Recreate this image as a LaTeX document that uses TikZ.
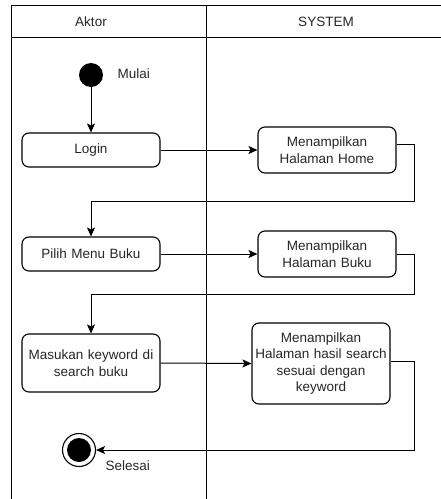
\documentclass[tikz,border=0pt]{standalone}
\usepackage{fontspec}
\setmainfont{Liberation Sans}
\usetikzlibrary{arrows.meta}
\begin{document}
\begin{tikzpicture}[x=1pt,y=-1pt,
  every node/.style={font=\fontsize{13.5}{16.6}\selectfont, text=black!85},
  act/.style={draw=black, line width=1.1pt, rounded corners=7pt, minimum width=138pt,
              text width=134pt, align=center, inner sep=0pt},
  flow/.style={draw=black, line width=1pt, -{Stealth[length=9pt,width=8pt,inset=2pt]}},
  lane/.style={draw=black, line width=1pt}]
\useasboundingbox (0,0) rectangle (440,499);

% swimlane frame
\draw[lane] (11,499) -- (11,5) -- (441,5);
\draw[lane] (11,37) -- (441,37);
\draw[lane] (206,5) -- (206,499);
\node (hAktor) at (91,22) {Aktor};
\node (hSystem) at (326,22) {SYSTEM};

% start / end markers
\node[circle, fill=black, minimum size=24pt, inner sep=0pt] (start) at (91,75) {};
\node[anchor=west] (mulai) at (114,74) {Mulai};
\node[circle, draw=black, line width=1.1pt, fill=white, minimum size=33pt, inner sep=0pt] (finish) at (79,450) {};
\node[circle, fill=black, minimum size=24pt, inner sep=0pt] (finishdot) at (79,450) {};
\node[anchor=west] (selesai) at (102,466) {Selesai};

% actions
\node[act, minimum height=34pt] (login) at (91,150) {Login};
\node[act, minimum height=46pt] (home) at (327,150) {Menampilkan\\Halaman Home};
\node[act, minimum height=34pt] (pilih) at (91,254) {Pilih Menu Buku};
\node[act, minimum height=46pt] (buku) at (327,254) {Menampilkan\\Halaman Buku};
\node[act, minimum height=58pt] (masukan) at (91,363) {Masukan keyword di\\search buku};
\node[act, minimum height=81pt] (hasil) at (321,363.5) {Menampilkan\\Halaman hasil search\\sesuai dengan\\keyword};

% bend points on the right side
\coordinate (b1) at (414,201);
\coordinate (b2) at (414,294);
\coordinate (b3) at (414,450);

% connectors
\draw[flow] (start) -- (login);
\draw[flow] (login.east) -- (home.west);
\draw[flow] ([yshift=6pt]home.east) -| (b1) -| (pilih.north);
\draw[flow] (pilih.east) -- (buku.west);
\draw[flow] (buku.east) -| (b2) -| (masukan.north);
\draw[flow] (masukan.east) -- (hasil.west);
\draw[flow] ([yshift=2.5pt]hasil.east) -| (b3) -- (finish.east);
\end{tikzpicture}
\end{document}
